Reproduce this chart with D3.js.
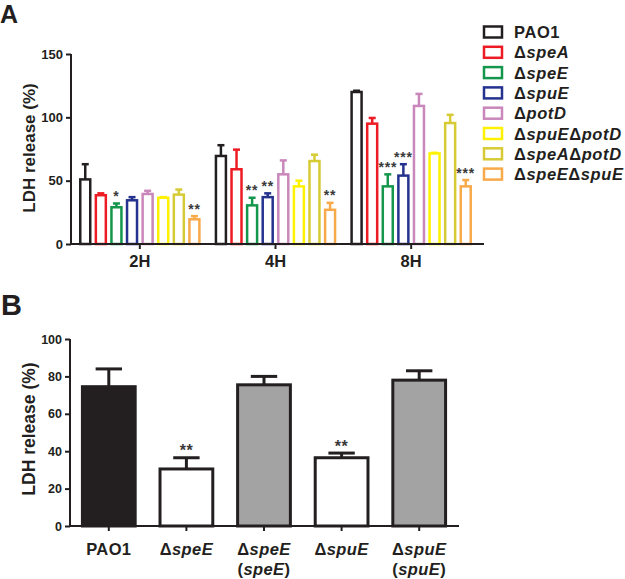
<!DOCTYPE html>
<html><head><meta charset="utf-8">
<script src="https://cdn.jsdelivr.net/npm/d3@7"></script>
<style>
body{margin:0;background:#fff;}
text{font-family:Arial,"Liberation Sans",Helvetica,sans-serif;font-weight:bold;fill:#231f20;}
</style></head>
<body><svg id="c" width="625" height="579"></svg>
<script>
// ---- Panel A data ----
const timePoints = ["2H","4H","8H"];
const strains = ["PAO1","speA","speE","spuE","potD","spuE|potD","speA|potD","speE|spuE"];
const strainColors = ["#231f20","#ed1c24","#14964c","#25338f","#c987bb","#fff200","#d6cb35","#f8aa4b"];
const mean2H = [51,38.5,29,34.5,39.5,36.5,39,19.5];
const sem2H  = [12,1.5,3,2.5,2.5,0.5,4,2.5];
const mean4H = [69.5,59,30.5,37,55,45.5,65.5,27];
const sem4H  = [8.5,15.5,6,3,11,4.5,5,5.5];
const mean8H = [120,95,45.5,54,109,71.5,95.5,45.5];
const sem8H  = [1,4.5,9.5,9,9.5,0.5,6.5,5];
const stars2H = ["","","*","","","","","**"];
const stars4H = ["","","**","**","","","","**"];
const stars8H = ["","","***","***","","","","***"];
const ticksA = [0,50,100,150];

// ---- Panel B data ----
const strainsB = ["PAO1","speE","speE(speE)","spuE","spuE(spuE)"];
const meanB = [74.5,30.5,75.5,36.5,78];
const semB  = [9.5,6,4.5,2.5,5];
const fillB = ["#231f20","#ffffff","#a3a3a3","#ffffff","#a3a3a3"];
const starsB = ["","**","","**",""];
const ticksB = [0,20,40,60,80,100];

const ink = "#231f20";
const svg = d3.select("#c");

function geneLabel(sel, name){
  if(name === "PAO1"){ sel.append("tspan").text("PAO1"); return; }
  name.split("|").forEach(g=>{
    sel.append("tspan").text("Δ");
    sel.append("tspan").attr("font-style","italic").text(g);
  });
}

// ================= Panel A =================
const yA = d3.scaleLinear().domain([0,150]).range([244,54]);
const xA = d3.scaleBand().domain(timePoints).range([72,479]).padding(0);
const xAi = d3.scaleBand().domain(strains).range([0,xA.bandwidth()]).paddingInner(0.36).paddingOuter(0.53);
const gA = svg.append("g");

const dataA = [];
const means = [mean2H,mean4H,mean8H], sems=[sem2H,sem4H,sem8H], starsA=[stars2H,stars4H,stars8H];
timePoints.forEach((t,ti)=>strains.forEach((s,si)=>dataA.push({t,s,si,v:means[ti][si],e:sems[ti][si],star:starsA[ti][si]})));
const cxA = d=>xA(d.t)+xAi(d.s)+xAi.bandwidth()/2;

const barsA = gA.selectAll("g.bar").data(dataA).join("g");
barsA.append("line")
  .attr("x1",cxA).attr("x2",cxA)
  .attr("y1",d=>yA(d.v)).attr("y2",d=>yA(d.v+d.e))
  .attr("stroke",d=>strainColors[d.si]).attr("stroke-width",2.5);
barsA.append("line")
  .attr("x1",d=>cxA(d)-3.5).attr("x2",d=>cxA(d)+3.5)
  .attr("y1",d=>yA(d.v+d.e)).attr("y2",d=>yA(d.v+d.e))
  .attr("stroke",d=>strainColors[d.si]).attr("stroke-width",2.5);
barsA.append("rect")
  .attr("x",d=>xA(d.t)+xAi(d.s)).attr("width",xAi.bandwidth())
  .attr("y",d=>yA(d.v)).attr("height",d=>yA(0)-yA(d.v))
  .attr("fill","#fff").attr("stroke",d=>strainColors[d.si]).attr("stroke-width",2.5);
barsA.filter(d=>d.star).append("text")
  .attr("x",cxA).attr("y",d=>yA(d.v+d.e)-2.5)
  .attr("text-anchor","middle").attr("font-size",14).attr("font-weight","normal")
  .style("fill","#3a3a3a").attr("letter-spacing",0.8).text(d=>d.star);

const axYA = gA.append("g").attr("transform","translate(71,0)")
  .call(d3.axisLeft(yA).tickValues(ticksA).tickSize(5).tickPadding(3));
axYA.select(".domain").attr("stroke",ink).attr("stroke-width",2).attr("d",`M0,${yA(150)}V${yA(0)}`);
axYA.selectAll(".tick line").attr("stroke",ink).attr("stroke-width",2);
axYA.selectAll(".tick text").attr("font-size",13).attr("font-family","Arial, Liberation Sans").attr("font-weight","bold").style("fill",ink);

const axXA = gA.append("g").attr("transform",`translate(0,${yA(0)})`)
  .call(d3.axisBottom(xA).tickSize(5).tickPadding(6));
axXA.select(".domain").attr("stroke",ink).attr("stroke-width",2).attr("d","M70,0H484");
axXA.selectAll(".tick line").attr("stroke",ink).attr("stroke-width",2);
axXA.selectAll(".tick text").attr("font-size",16.5).attr("font-family","Arial, Liberation Sans").attr("font-weight","bold").style("fill",ink);

gA.append("text").attr("transform",`translate(35,148) rotate(-90)`)
  .attr("text-anchor","middle").attr("font-size",17).text("LDH release (%)");
svg.append("text").attr("x",0).attr("y",23).attr("font-size",25).text("A");

// legend A
const leg = svg.append("g").attr("transform","translate(483,32)");
strains.forEach((s,i)=>{
  const row = leg.append("g").attr("transform",`translate(0,${i*20.3})`);
  row.append("rect").attr("x",1).attr("y",-5.5).attr("width",18).attr("height",11)
    .attr("fill","#fff").attr("stroke",strainColors[i]).attr("stroke-width",2.5);
  const t = row.append("text").attr("x",31).attr("y",6).attr("font-size",16.5).attr("letter-spacing",0.6);
  geneLabel(t,s);
});

// ================= Panel B =================
const yB = d3.scaleLinear().domain([0,100]).range([526,339]);
const xB = d3.scaleBand().domain(strainsB).range([70,458]).paddingInner(0.32).paddingOuter(0.16);
const gB = svg.append("g");
const dataB = strainsB.map((s,i)=>({s,i,v:meanB[i],e:semB[i],f:fillB[i],star:starsB[i]}));
const cxB = d=>xB(d.s)+xB.bandwidth()/2;
const barsB = gB.selectAll("g.barB").data(dataB).join("g");
barsB.append("line")
  .attr("x1",cxB).attr("x2",cxB)
  .attr("y1",d=>yB(d.v)).attr("y2",d=>yB(d.v+d.e)).attr("stroke",ink).attr("stroke-width",3);
barsB.append("line")
  .attr("x1",d=>xB(d.s)+xB.bandwidth()/4).attr("x2",d=>xB(d.s)+xB.bandwidth()*3/4)
  .attr("y1",d=>yB(d.v+d.e)).attr("y2",d=>yB(d.v+d.e)).attr("stroke",ink).attr("stroke-width",3);
barsB.append("rect")
  .attr("x",d=>xB(d.s)).attr("width",xB.bandwidth())
  .attr("y",d=>yB(d.v)).attr("height",d=>yB(0)-yB(d.v))
  .attr("fill",d=>d.f).attr("stroke",ink).attr("stroke-width",3);
barsB.filter(d=>d.star).append("text")
  .attr("x",cxB).attr("y",d=>yB(d.v+d.e)-1.5)
  .attr("text-anchor","middle").attr("font-size",16).attr("font-weight","normal")
  .style("fill","#3a3a3a").attr("letter-spacing",0.5).text(d=>d.star);

const axYB = gB.append("g").attr("transform","translate(70,0)")
  .call(d3.axisLeft(yB).tickValues(ticksB).tickSize(5).tickPadding(3));
axYB.select(".domain").attr("stroke",ink).attr("stroke-width",2).attr("d",`M0,${yB(100)}V${yB(0)}`);
axYB.selectAll(".tick line").attr("stroke",ink).attr("stroke-width",2);
axYB.selectAll(".tick text").attr("font-size",12.5).attr("font-family","Arial, Liberation Sans").attr("font-weight","bold").style("fill",ink);

const axXB = gB.append("g").attr("transform",`translate(0,${yB(0)})`)
  .call(d3.axisBottom(xB).tickSize(5).tickFormat(""));
axXB.select(".domain").attr("stroke",ink).attr("stroke-width",2).attr("d","M69,0H459");
axXB.selectAll(".tick line").attr("stroke",ink).attr("stroke-width",2);

strainsB.forEach((s,i)=>{
  const cx = xB(s)+xB.bandwidth()/2;
  const m = s.match(/^([^(]+)(\((.+)\))?$/);
  const t1 = gB.append("text").attr("x",cx).attr("y",555).attr("text-anchor","middle").attr("font-size",16.5).attr("letter-spacing",0.4);
  geneLabel(t1,m[1]);
  if(m[3]){
    const t2 = gB.append("text").attr("x",cx).attr("y",575).attr("text-anchor","middle").attr("font-size",16.5).attr("letter-spacing",0.4);
    t2.append("tspan").text("(");
    t2.append("tspan").attr("font-style","italic").text(m[3]);
    t2.append("tspan").text(")");
  }
});

gB.append("text").attr("transform",`translate(35,429) rotate(-90)`)
  .attr("text-anchor","middle").attr("font-size",17.5).text("LDH release (%)");
svg.append("text").attr("x",1).attr("y",314.5).attr("font-size",29).text("B");
</script></body></html>
